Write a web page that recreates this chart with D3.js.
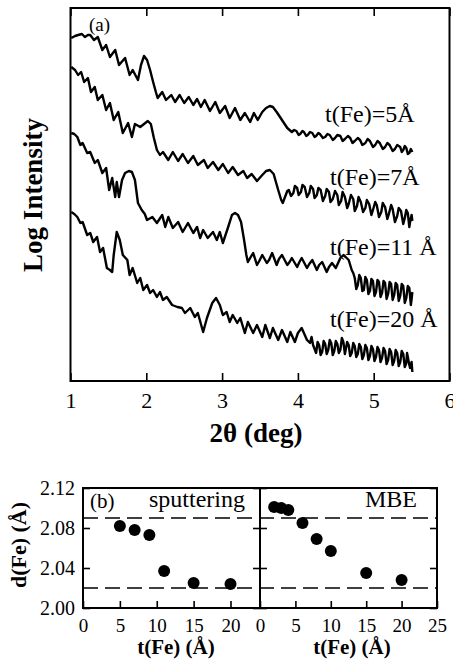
<!DOCTYPE html>
<html>
<head>
<meta charset="utf-8">
<script src="https://cdn.jsdelivr.net/npm/d3@7"></script>
<style>
  html, body { margin: 0; padding: 0; background: #fff; }
  svg { display: block; }
</style>
</head>
<body>
<svg id="fig" width="453" height="664"></svg>
<script>
// ---------- data (a): reflectivity curves, [2theta (deg), offset log intensity (arb.)] ----------
const curve5 = [
  [1.01,34.3],[1.06,34.5],[1.10,34.6],[1.15,34.7],[1.19,34.4],[1.23,34.6],[1.26,34.6],[1.31,34.1],
  [1.36,34.4],[1.42,33.1],[1.47,33.6],[1.52,32.4],[1.59,33.1],[1.64,31.6],[1.72,32.3],[1.78,30.6],
  [1.82,31.1],[1.89,30.1],[1.93,31.6],[1.97,32.5],[2.01,32.1],[2.05,31.1],[2.09,29.9],[2.13,28.8],
  [2.15,28.3],[2.21,28.9],[2.26,28.1],[2.33,28.6],[2.38,27.9],[2.44,28.6],[2.50,27.8],[2.56,28.4],
  [2.62,27.6],[2.67,28.2],[2.72,27.4],[2.77,28.1],[2.84,27.0],[2.91,27.9],[2.97,26.8],[3.04,27.5],
  [3.10,26.3],[3.17,27.3],[3.24,26.1],[3.30,26.8],[3.37,25.9],[3.42,26.8],[3.47,26.1],[3.53,26.9],
  [3.58,27.3],[3.63,27.5],[3.67,27.4],[3.72,26.9],[3.79,26.1],[3.86,25.3],[3.92,24.9],[3.95,25.1],
  [3.98,25.0],[4.01,24.6],[4.03,24.7],[4.06,25.0],[4.08,24.9],[4.11,24.5],[4.13,24.6],[4.16,24.9],
  [4.19,24.8],[4.22,24.4],[4.24,24.5],[4.27,24.8],[4.29,24.7],[4.33,24.3],[4.36,24.4],[4.39,24.7],
  [4.42,24.6],[4.46,24.1],[4.49,24.3],[4.52,24.6],[4.56,24.5],[4.59,24.0],[4.62,24.2],[4.66,24.5],
  [4.69,24.3],[4.72,23.8],[4.75,24.0],[4.79,24.3],[4.82,24.1],[4.85,23.6],[4.89,23.8],[4.92,24.2],
  [4.95,24.0],[4.99,23.4],[5.02,23.6],[5.05,24.0],[5.08,23.8],[5.12,23.2],[5.15,23.4],[5.18,23.8],
  [5.21,23.6],[5.25,23.0],[5.28,23.2],[5.31,23.6],[5.35,23.4],[5.37,22.9],[5.39,23.1],[5.41,23.5],
  [5.43,23.3],[5.45,22.7],[5.47,22.8],[5.49,23.2],[5.51,22.9]
];
const curve7 = [
  [1.01,31.4],[1.06,31.1],[1.10,30.6],[1.14,30.9],[1.18,29.9],[1.23,30.3],[1.27,28.9],[1.32,29.4],
  [1.36,28.1],[1.42,28.6],[1.47,27.1],[1.52,27.8],[1.57,26.1],[1.63,26.9],[1.69,24.8],[1.76,25.8],
  [1.81,24.4],[1.85,25.7],[1.92,25.4],[1.97,25.7],[2.02,26.0],[2.06,25.7],[2.10,24.3],[2.14,23.1],
  [2.18,22.6],[2.22,22.9],[2.29,22.1],[2.35,22.9],[2.42,22.0],[2.48,22.7],[2.55,21.8],[2.62,22.5],
  [2.68,21.6],[2.76,22.1],[2.81,21.3],[2.88,21.9],[2.95,21.1],[3.01,21.7],[3.08,20.8],[3.14,21.4],
  [3.21,20.6],[3.28,21.0],[3.33,20.3],[3.39,20.7],[3.46,20.0],[3.53,20.6],[3.58,21.0],[3.63,21.1],
  [3.68,20.7],[3.74,19.1],[3.78,18.1],[3.80,17.8],[3.84,18.6],[3.86,19.0],[3.88,19.1],[3.91,18.5],
  [3.94,18.8],[3.96,19.5],[3.99,19.3],[4.01,18.6],[4.04,18.9],[4.06,19.6],[4.09,19.4],[4.12,18.4],
  [4.15,18.8],[4.17,19.5],[4.20,19.2],[4.22,18.3],[4.25,18.6],[4.27,19.3],[4.30,19.1],[4.33,18.0],
  [4.36,18.5],[4.38,19.2],[4.41,18.9],[4.43,17.9],[4.46,18.2],[4.49,19.0],[4.52,18.6],[4.54,17.6],
  [4.57,18.0],[4.59,18.9],[4.62,18.4],[4.65,17.3],[4.67,17.7],[4.70,18.6],[4.73,18.2],[4.75,17.0],
  [4.78,17.5],[4.80,18.4],[4.83,17.9],[4.86,16.9],[4.89,17.3],[4.91,18.1],[4.94,17.7],[4.97,16.6],
  [4.99,17.1],[5.02,17.9],[5.04,17.6],[5.07,16.4],[5.10,16.9],[5.12,17.8],[5.15,17.4],[5.18,16.2],
  [5.20,16.7],[5.23,17.6],[5.25,17.2],[5.28,15.9],[5.31,16.5],[5.33,17.3],[5.36,17.0],[5.39,15.7],
  [5.41,16.3],[5.43,17.1],[5.45,16.8],[5.47,15.4],[5.48,15.9],[5.50,16.6],[5.51,16.0]
];
const curve11 = [
  [1.01,24.8],[1.05,24.7],[1.09,24.4],[1.13,23.6],[1.16,23.8],[1.22,22.8],[1.26,22.9],[1.32,21.8],
  [1.36,22.1],[1.42,20.8],[1.47,21.3],[1.51,19.1],[1.55,20.3],[1.59,18.4],[1.61,19.9],[1.64,18.4],
  [1.68,20.1],[1.72,20.8],[1.77,21.0],[1.81,20.9],[1.85,20.1],[1.89,17.8],[1.94,17.1],[1.98,16.7],
  [2.01,16.1],[2.08,16.4],[2.14,15.8],[2.21,16.6],[2.25,15.4],[2.29,16.4],[2.35,15.3],[2.42,15.9],
  [2.48,14.9],[2.55,15.8],[2.62,14.8],[2.67,15.4],[2.71,14.3],[2.75,15.1],[2.81,14.3],[2.88,14.9],
  [2.93,14.1],[2.97,14.9],[3.01,13.8],[3.08,15.4],[3.13,16.6],[3.17,16.8],[3.21,16.6],[3.25,15.9],
  [3.29,14.1],[3.32,12.6],[3.34,11.9],[3.37,12.3],[3.41,12.8],[3.46,11.6],[3.49,12.0],[3.53,12.6],
  [3.59,11.8],[3.62,12.1],[3.66,12.8],[3.72,11.6],[3.75,12.2],[3.79,12.6],[3.86,11.6],[3.89,11.9],
  [3.92,12.3],[3.99,11.4],[4.02,11.9],[4.05,12.3],[4.12,11.3],[4.15,11.7],[4.19,12.1],[4.25,11.1],
  [4.28,11.6],[4.32,11.9],[4.38,10.9],[4.41,11.4],[4.45,11.8],[4.50,11.3],[4.56,12.3],[4.60,12.6],
  [4.63,12.4],[4.67,12.1],[4.71,11.1],[4.73,10.8],[4.75,10.3],[4.77,9.2],[4.79,9.6],[4.81,10.6],
  [4.83,10.3],[4.85,9.0],[4.87,9.1],[4.89,10.4],[4.91,10.1],[4.93,8.7],[4.95,9.0],[4.97,10.2],
  [4.99,10.0],[5.01,8.5],[5.03,8.9],[5.05,10.1],[5.07,9.9],[5.09,8.4],[5.11,8.8],[5.13,10.0],
  [5.15,9.8],[5.17,8.2],[5.19,8.7],[5.21,9.9],[5.23,9.7],[5.25,8.1],[5.27,8.6],[5.29,9.8],
  [5.31,9.6],[5.33,8.0],[5.35,8.5],[5.37,9.7],[5.39,9.5],[5.41,7.8],[5.43,8.3],[5.45,9.5],
  [5.47,9.3],[5.49,7.6],[5.50,8.2],[5.51,8.9]
];
const curve20 = [
  [1.01,16.9],[1.05,16.7],[1.09,16.4],[1.13,15.8],[1.16,15.9],[1.22,14.6],[1.26,14.8],[1.30,13.9],
  [1.35,14.4],[1.39,12.9],[1.43,13.3],[1.48,11.3],[1.52,11.1],[1.55,10.9],[1.57,12.6],[1.61,14.9],
  [1.65,14.1],[1.69,12.6],[1.75,12.1],[1.78,10.6],[1.82,11.3],[1.88,9.8],[1.92,10.3],[1.96,9.1],
  [2.01,9.6],[2.05,8.8],[2.09,9.1],[2.14,8.4],[2.18,8.9],[2.22,8.1],[2.27,8.4],[2.34,7.6],
  [2.41,7.4],[2.47,7.3],[2.51,6.8],[2.58,7.3],[2.64,6.4],[2.68,6.8],[2.75,4.9],[2.80,6.3],
  [2.87,7.8],[2.92,8.3],[2.97,7.6],[3.01,6.6],[3.06,6.9],[3.10,5.9],[3.14,6.6],[3.20,5.8],
  [3.24,6.3],[3.30,4.8],[3.34,5.9],[3.41,4.8],[3.46,5.6],[3.53,4.4],[3.57,5.6],[3.63,4.3],
  [3.67,5.3],[3.74,4.1],[3.79,5.1],[3.86,3.9],[3.90,4.9],[3.96,3.9],[4.00,4.8],[4.05,5.3],
  [4.12,4.1],[4.16,3.8],[4.18,4.4],[4.20,3.6],[4.22,3.2],[4.24,2.8],[4.26,3.9],[4.28,3.6],
  [4.30,2.6],[4.32,2.9],[4.34,4.0],[4.36,3.7],[4.38,2.7],[4.40,3.1],[4.42,4.1],[4.44,3.8],
  [4.46,2.6],[4.48,3.0],[4.50,4.0],[4.52,3.7],[4.54,2.8],[4.56,3.1],[4.58,4.3],[4.60,3.9],
  [4.62,2.7],[4.63,3.1],[4.65,3.9],[4.67,3.6],[4.69,2.5],[4.71,2.8],[4.73,3.8],[4.75,3.5],
  [4.77,2.4],[4.79,2.7],[4.81,3.7],[4.83,3.4],[4.85,2.2],[4.87,2.6],[4.89,3.6],[4.91,3.3],
  [4.93,2.1],[4.95,2.5],[4.97,3.5],[4.99,3.2],[5.01,2.0],[5.03,2.4],[5.05,3.4],[5.07,3.1],
  [5.09,1.9],[5.11,2.3],[5.13,3.3],[5.15,3.0],[5.17,1.7],[5.19,2.1],[5.21,3.2],[5.23,2.9],
  [5.25,1.6],[5.27,2.0],[5.29,3.1],[5.31,2.8],[5.33,1.5],[5.35,1.9],[5.37,3.0],[5.39,2.7],
  [5.41,1.4],[5.43,1.8],[5.44,2.8],[5.45,2.4],[5.47,1.6],[5.48,1.3],[5.50,1.9],[5.51,0.9]
];
const curveLabels = ["t(Fe)=5\u00C5", "t(Fe)=7\u00C5", "t(Fe)=11 \u00C5", "t(Fe)=20 \u00C5"];
const thetaTicks = [1, 2, 3, 4, 5, 6];

// ---------- data (b): Fe interplanar spacing ----------
const sputT = [5, 7, 9, 11, 15, 20];
const sputD = [2.082, 2.078, 2.073, 2.037, 2.025, 2.024];
const mbeT = [2, 3, 4, 6, 8, 10, 15, 20];
const mbeD = [2.101, 2.100, 2.098, 2.085, 2.069, 2.057, 2.035, 2.028];
const dTicks = [2.00, 2.04, 2.08, 2.12];
const refLines = [2.09, 2.02];
const tTicksL = [0, 5, 10, 15, 20];
const tTicksR = [0, 5, 10, 15, 20, 25];

const SERIF = "'Liberation Serif', 'Times New Roman', serif";
const svg = d3.select("#fig");
svg.append("rect").attr("width", 453).attr("height", 664).attr("fill", "#fff");

function styleAxis(g, size) {
    g.attr("font-family", SERIF).attr("font-size", size);
    g.select(".domain").remove();
    g.selectAll(".tick line").attr("stroke", "#000").attr("stroke-width", 1.6);
    g.selectAll(".tick text").attr("fill", "#000");
}

// ================= panel (a) =================
const A = { l: 70.5, r: 449.5, t: 8, b: 381 };
const x = d3.scaleLinear().domain([1, 6]).range([A.l, A.r]);
const y = d3.scaleLinear().domain([0, 37.3]).range([A.b, A.t]);
const gA = svg.append("g");

const line = d3.line().x(d => x(d[0])).y(d => y(d[1]));
[curve5, curve7, curve11, curve20].forEach(c => {
    gA.append("path").datum(c)
        .attr("d", line)
        .attr("fill", "none")
        .attr("stroke", "#000")
        .attr("stroke-width", 2.4)
        .attr("stroke-linejoin", "round");
});

gA.append("g").attr("transform", `translate(0,${A.b})`)
    .call(d3.axisBottom(x).tickValues(thetaTicks).tickSize(-8).tickPadding(11).tickFormat(d3.format("d")))
    .call(g => styleAxis(g, 22));
gA.append("g").attr("transform", `translate(0,${A.t})`)
    .call(d3.axisTop(x).tickValues(thetaTicks).tickSize(-8).tickFormat(""))
    .call(g => styleAxis(g, 22));

gA.append("rect")
    .attr("x", A.l).attr("y", A.t)
    .attr("width", A.r - A.l).attr("height", A.b - A.t)
    .attr("fill", "none").attr("stroke", "#000").attr("stroke-width", 2);

gA.append("text").attr("x", 89).attr("y", 31)
    .attr("font-family", SERIF).attr("font-size", 19).text("(a)");

const labelPos = [[325, 122], [330, 185], [330, 255], [330, 327]];
curveLabels.forEach((s, i) => {
    gA.append("text")
        .attr("x", labelPos[i][0]).attr("y", labelPos[i][1])
        .attr("font-family", SERIF).attr("font-size", 24)
        .text(s);
});

gA.append("text")
    .attr("transform", "translate(42,195) rotate(-90)")
    .attr("text-anchor", "middle")
    .attr("font-family", SERIF).attr("font-weight", "bold").attr("font-size", 27)
    .text("Log Intensity");
gA.append("text")
    .attr("x", 256).attr("y", 442)
    .attr("text-anchor", "middle")
    .attr("font-family", SERIF).attr("font-weight", "bold").attr("font-size", 27)
    .text("2\u03B8 (deg)");

// ================= panel (b) =================
const B = { l: 83, m: 260, r: 437, t: 488, b: 608 };
const xL = d3.scaleLinear().domain([0, 24]).range([B.l, B.m]);
const xR = d3.scaleLinear().domain([0, 25]).range([B.m, B.r]);
const yD = d3.scaleLinear().domain([2.00, 2.12]).range([B.b, B.t]);
const gB = svg.append("g");

// dashed reference lines
refLines.forEach(v => {
    gB.append("line")
        .attr("x1", B.l).attr("x2", B.r)
        .attr("y1", yD(v)).attr("y2", yD(v))
        .attr("stroke", "#000").attr("stroke-width", 1.6)
        .attr("stroke-dasharray", "15,7");
});

// y axes
gB.append("g").attr("transform", `translate(${B.l},0)`)
    .call(d3.axisLeft(yD).tickValues(dTicks).tickSize(-7).tickPadding(8).tickFormat(d3.format(".2f")))
    .call(g => styleAxis(g, 20));
gB.append("g").attr("transform", `translate(${B.m},0)`)
    .call(d3.axisLeft(yD).tickValues(dTicks).tickSize(7).tickFormat(""))
    .call(g => styleAxis(g, 20));
gB.append("g").attr("transform", `translate(${B.m},0)`)
    .call(d3.axisRight(yD).tickValues(dTicks).tickSize(7).tickFormat(""))
    .call(g => styleAxis(g, 20));
gB.append("g").attr("transform", `translate(${B.r},0)`)
    .call(d3.axisRight(yD).tickValues(dTicks).tickSize(-7).tickFormat(""))
    .call(g => styleAxis(g, 20));

// x axes
gB.append("g").attr("transform", `translate(0,${B.b})`)
    .call(d3.axisBottom(xL).tickValues(tTicksL).tickSize(-7).tickPadding(11))
    .call(g => styleAxis(g, 19));
gB.append("g").attr("transform", `translate(0,${B.b})`)
    .call(d3.axisBottom(xR).tickValues(tTicksR).tickSize(-7).tickPadding(11))
    .call(g => styleAxis(g, 19));

// frames
[[B.l, B.m], [B.m, B.r]].forEach(([a, b]) => {
    gB.append("rect")
        .attr("x", a).attr("y", B.t)
        .attr("width", b - a).attr("height", B.b - B.t)
        .attr("fill", "none").attr("stroke", "#000").attr("stroke-width", 2);
});

// points
gB.selectAll(".sput").data(sputT).enter().append("circle")
    .attr("cx", (d) => xL(d)).attr("cy", (d, i) => yD(sputD[i]))
    .attr("r", 6).attr("fill", "#000");
gB.selectAll(".mbe").data(mbeT).enter().append("circle")
    .attr("cx", (d) => xR(d)).attr("cy", (d, i) => yD(mbeD[i]))
    .attr("r", 6).attr("fill", "#000");

// panel texts
gB.append("text").attr("x", 90).attr("y", 508)
    .attr("font-family", SERIF).attr("font-size", 21).text("(b)");
gB.append("text").attr("x", 245).attr("y", 507).attr("text-anchor", "end")
    .attr("font-family", SERIF).attr("font-size", 24).text("sputtering");
gB.append("text").attr("x", 417).attr("y", 507).attr("text-anchor", "end")
    .attr("font-family", SERIF).attr("font-size", 24).text("MBE");

gB.append("text")
    .attr("transform", "translate(26,545) rotate(-90)")
    .attr("text-anchor", "middle")
    .attr("font-family", SERIF).attr("font-weight", "bold").attr("font-size", 22)
    .text("d(Fe) (\u00C5)");
[[176, "t(Fe) (\u00C5)"], [352, "t(Fe) (\u00C5)"]].forEach(([cx, s]) => {
    gB.append("text")
        .attr("x", cx).attr("y", 654)
        .attr("text-anchor", "middle")
        .attr("font-family", SERIF).attr("font-weight", "bold").attr("font-size", 21)
        .text(s);
});
</script>
</body>
</html>
